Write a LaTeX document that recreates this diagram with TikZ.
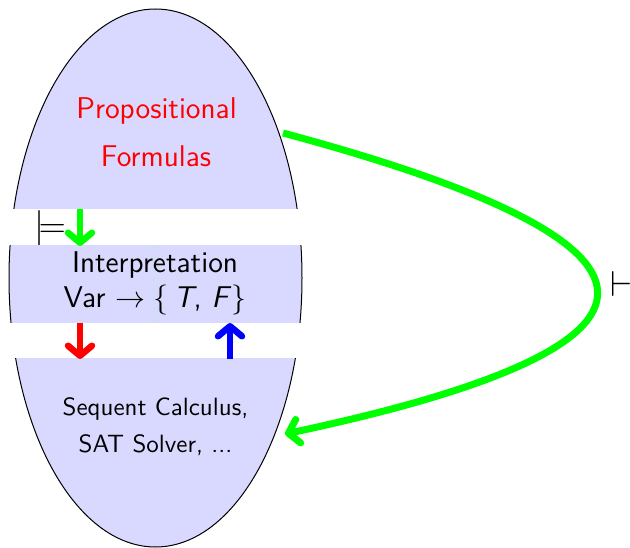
\documentclass[tikz,border=0pt]{standalone}
\usetikzlibrary{arrows.meta}
\begin{document}
\begin{tikzpicture}[x=1pt,y=-1pt,
  bandfill/.style={fill=blue!15, draw=black, line width=1pt},
  flow/.style={line width=6.5pt, -{Straight Barb[round,length=10pt,width=24pt]}},
  bigtxt/.style={anchor=base, inner sep=0pt, scale=2.5, font=\sffamily\large},
  smalltxt/.style={anchor=base, inner sep=0pt, scale=2.5, font=\sffamily},
  symb/.style={anchor=base west, inner sep=0pt, scale=2.5, font=\Large}]
\useasboundingbox (0,0) rectangle (630,548);
% turnstile symbols
\node[symb] (models) at (34,237.5) {$\models$};
\node[symb] (vdash) at (610,297) {$\vdash$};
% ellipse in three bands
\begin{scope}
  \clip (0,0) rectangle (320,209);
  \path[bandfill] (155.5,278) ellipse [x radius=146.5pt, y radius=269pt];
\end{scope}
\begin{scope}
  \clip (0,246) rectangle (320,323);
  \path[bandfill] (155.5,278) ellipse [x radius=146.5pt, y radius=269pt];
\end{scope}
\begin{scope}
  \clip (0,359) rectangle (320,560);
  \path[bandfill] (155.5,278) ellipse [x radius=146.5pt, y radius=269pt];
\end{scope}
% faint dashed double line in the middle band
\draw[draw={rgb,255:red,196;green,228;blue,228}, line width=1pt, double=blue!15, double distance=3pt,
      dash pattern=on 6pt off 4pt] (155,246) -- (155,323);
% texts
\node[bigtxt, red] (prop1) at (156.5,119) {Propositional};
\node[bigtxt, red] (prop2) at (156,167) {Formulas};
\node[bigtxt] (interp1) at (155,273) {Interpretation};
\node[bigtxt] (interp2) at (155,308) {Var $\rightarrow\{$\,\textit{T}, \textit{F}$\}$};
\node[smalltxt] (calc1) at (155.5,416) {Sequent Calculus,};
\node[smalltxt] (calc2) at (155.5,452) {SAT Solver, ...};
% arrow end points
\coordinate (g1) at (80,209);
\coordinate (g2) at (80,246);
\coordinate (r1) at (80,323);
\coordinate (r2) at (80,359);
\coordinate (b1) at (230,359);
\coordinate (b2) at (230,323);
\coordinate (cstart) at (283,133);
\coordinate (cend) at (285,434);
% arrows
\draw[flow, green] (g1) -- (g2);
\draw[flow, red] (r1) -- (r2);
\draw[flow, blue] (b1) -- (b2);
\draw[flow, green, line width=7pt] (cstart) .. controls (697,244) and (705,345) .. (cend);
\end{tikzpicture}
\end{document}
